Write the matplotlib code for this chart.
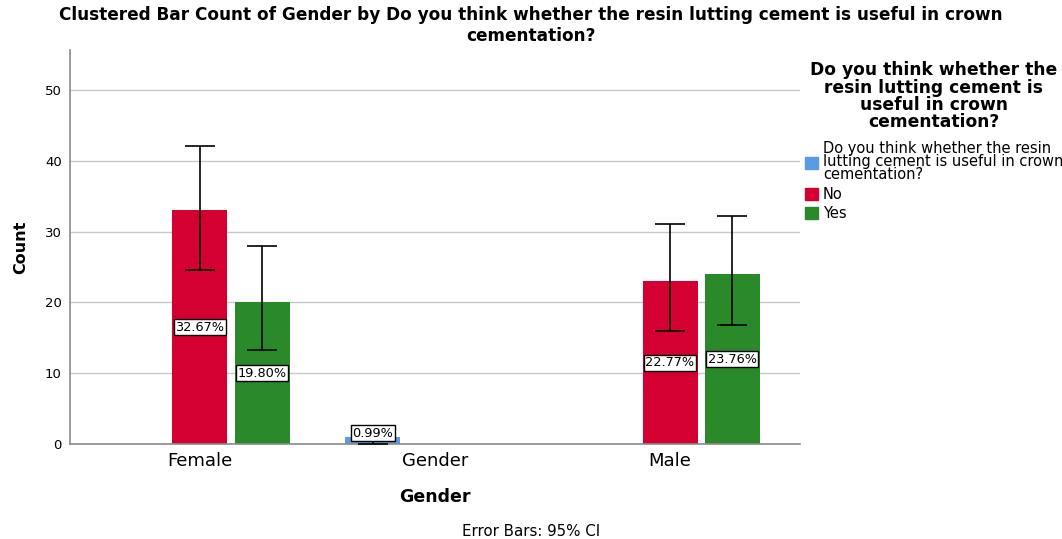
import numpy as np
import matplotlib
matplotlib.use('Agg')
import matplotlib.pyplot as plt
from matplotlib.patches import Patch

plt.rcParams['font.family'] = ['DejaVu Sans']

# Data
categories = ['Female', 'Gender', 'Male']
series = ['Do you think whether the resin\nlutting cement is useful in crown\ncementation?', 'No', 'Yes']
counts_blank = [0, 1, 0]
counts_no = [33, 0, 23]
counts_yes = [20, 0, 24]
pct_blank = ['', '0.99%', '']
pct_no = ['32.67%', '', '22.77%']
pct_yes = ['19.80%', '', '23.76%']
ci_low_blank = [0, 0, 0]
ci_high_blank = [0, 1.7, 0]
ci_low_no = [24.6, 0, 16.0]
ci_high_no = [42.1, 0, 31.1]
ci_low_yes = [13.3, 0, 16.8]
ci_high_yes = [28.0, 0, 32.2]

colors = ['#5b9be6', '#d50032', '#2a8a2a']

fig = plt.figure(figsize=(10.62, 5.39), dpi=100)
ax = fig.add_axes([0.0659, 0.1763, 0.6874, 0.731])

x = np.arange(len(categories))
step = 0.264
width = 0.234
groups = [
    (counts_blank, pct_blank, ci_low_blank, ci_high_blank),
    (counts_no, pct_no, ci_low_no, ci_high_no),
    (counts_yes, pct_yes, ci_low_yes, ci_high_yes),
]

for i, (vals, pcts, lo, hi) in enumerate(groups):
    xpos = x + (i - 1) * step
    ax.bar(xpos, vals, width=width, color=colors[i], zorder=2)
    for xp, v, p, l, h in zip(xpos, vals, pcts, lo, hi):
        if v == 0:
            continue
        ax.errorbar(xp, v, yerr=[[v - l], [h - v]], fmt='none', ecolor='black',
                    elinewidth=1.2, capsize=11, capthick=1.2, zorder=3)
        ypos = max(v / 2, 1.5)
        ax.text(xp, ypos, p, ha='center', va='center', fontsize=9.3, zorder=4,
                bbox=dict(boxstyle='square,pad=0.12', fc='white', ec='black', lw=1))

ax.set_xlim(-0.553, 2.553)
ax.set_ylim(0, 55.65)
ax.set_yticks([0, 10, 20, 30, 40, 50])
ax.set_xticks(x)
ax.set_xticklabels(categories, fontsize=13)
ax.tick_params(axis='y', labelsize=9.5, length=0, pad=6)
ax.tick_params(axis='x', length=0, pad=6)
ax.grid(axis='y', color='#c8c8c8', lw=1, zorder=0)
for s in ['top', 'right']:
    ax.spines[s].set_visible(False)
for s in ['left', 'bottom']:
    ax.spines[s].set_color('#8a8a8a')
    ax.spines[s].set_linewidth(1.2)

ax.set_ylabel('Count', fontsize=11.5, fontweight='bold', labelpad=12)
ax.set_xlabel('Gender', fontsize=12.5, fontweight='bold', labelpad=13)

fig.text(0.5, 0.988, 'Clustered Bar Count of Gender by Do you think whether the resin lutting cement is useful in crown\ncementation?',
         ha='center', va='top', fontsize=12.2, fontweight='bold', linespacing=1.15)
fig.text(0.5, 0.0148, 'Error Bars: 95% CI', ha='center', va='center', fontsize=10.8)

handles = [Patch(color=c) for c in colors]
leg = fig.legend(handles, series, loc='upper left', bbox_to_anchor=(0.748, 0.905),
                 frameon=False, fontsize=10.5, handlelength=0.9, handleheight=0.9,
                 handletextpad=0.35, labelspacing=0.3, alignment='center',
                 borderpad=0.2,
                 title='Do you think whether the\nresin lutting cement is\nuseful in crown\ncementation?',
                 title_fontproperties={'weight': 'bold', 'size': 12.3})
leg.get_title().set_multialignment('center')
leg.get_title().set_linespacing(0.95)
leg._legend_box.sep = 7
for t in leg.get_texts():
    t.set_linespacing(0.85)

fig.savefig('out.png', dpi=100)
